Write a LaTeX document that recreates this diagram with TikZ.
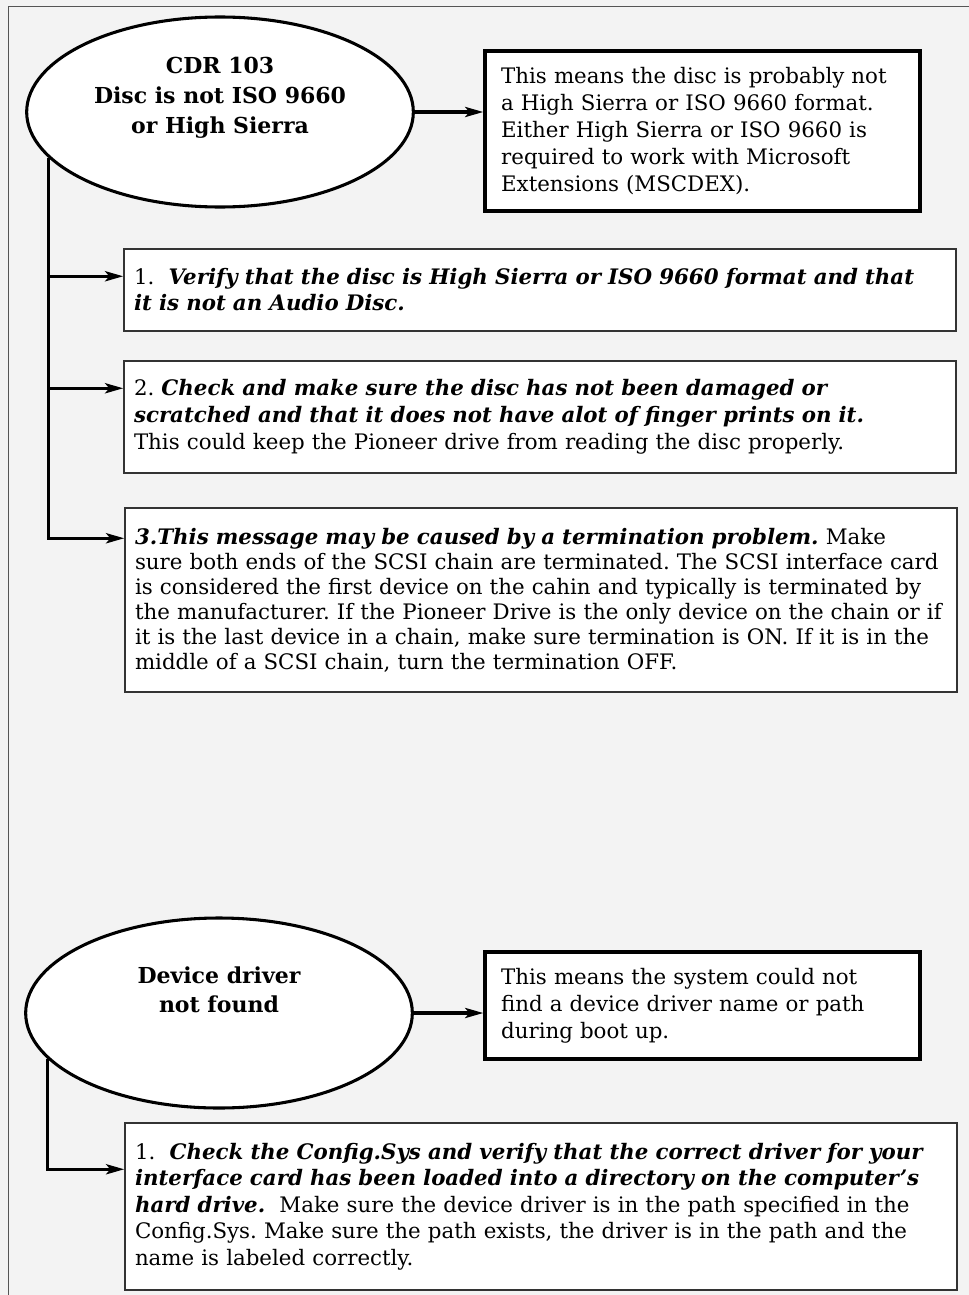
\documentclass[tikz,border=0pt]{standalone}
\usepackage{fontspec}
\setmainfont{DejaVu Serif}
\usetikzlibrary{arrows.meta,positioning,shapes.geometric,calc}
\definecolor{pagegray}{HTML}{F3F3F3}
\definecolor{framegray}{HTML}{555555}
\newcommand{\bfit}[1]{\textbf{\textit{#1}}}
\frenchspacing
\tikzset{
  errnode/.style={draw, ellipse, line width=2.3pt, fill=white, minimum width=290pt, minimum height=142.5pt, inner sep=0pt},
  errtext/.style={align=center, font=\bfseries\fontsize{16.5pt}{22.5pt}\selectfont},
  infobox/.style={draw, line width=2.8pt, fill=white, text width=302pt, inner xsep=12pt, align=left, font=\fontsize{16pt}{20.25pt}\selectfont},
  stepbox/.style={draw=black!80, line width=1.1pt, fill=white, text width=609pt, inner xsep=7.5pt, align=left, font=\fontsize{16pt}{20.25pt}\selectfont},
  flow/.style={-{Stealth[length=13.5pt,width=7.5pt,inset=3pt]}, line width=2.5pt}
}

\begin{document}
\begin{tikzpicture}[x=0.75pt,y=-0.75pt]
\useasboundingbox (0,0) rectangle (969,1295);
\fill[pagegray] (0,0) rectangle (969,1295);
\draw[framegray, line width=0.8pt] (8.5,6.5) rectangle (990,1310);

% CDR 103
\node[errnode] (e1) at (220,112) {};
\node[errtext] (e1text) at (220,98) {CDR 103\\Disc is not ISO 9660\\or High Sierra};
\node[infobox, minimum height=120pt] (info1) at (702.5,131)
  {This means the disc is probably not\\
   a High Sierra or ISO 9660 format.\\
   Either High Sierra or ISO 9660 is\\
   required to work with Microsoft\\
   Extensions (MSCDEX).};

\node[stepbox, minimum height=61.5pt, font=\fontsize{16pt}{19.5pt}\selectfont] (step1) at (540,290)
  {1.\ \ \bfit{Verify that the disc is High Sierra or ISO 9660 format and that}\\
   \bfit{it is not an Audio Disc.}};
\node[stepbox, minimum height=84pt] (step2) at (540,417)
  {2. \bfit{Check and make sure the disc has not been damaged or}\\
   \bfit{scratched and that it does not have alot of finger prints on it.}\\
   This could keep the Pioneer drive from reading the disc properly.};
\node[stepbox, minimum height=138pt, font=\fontsize{16pt}{18.75pt}\selectfont] (step3) at (541,600)
  {\bfit{3.This message may be caused by a termination problem.} Make\\
   sure both ends of the SCSI chain are terminated. The SCSI interface card\\
   is considered the first device on the cahin and typically is terminated by\\
   the manufacturer. If the Pioneer Drive is the only device on the chain or if\\
   it is the last device in a chain, make sure termination is ON. If it is in the\\
   middle of a SCSI chain, turn the termination OFF.};

\coordinate (in1) at ([yshift=-21pt]step1.north west);
\coordinate (in2) at ([yshift=-21pt]step2.north west);
\coordinate (in3) at ([yshift=-23.25pt]step3.north west);
\draw[flow] (e1.east) -- (e1.east -| info1.west);
\draw[flow] (e1.195) |- (in3);
\draw[flow] (in1 -| e1.195) -- (in1);
\draw[flow] (in2 -| e1.195) -- (in2);

% Device driver
\node[errnode] (e2) at (219,1013) {};
\node[errtext, font=\bfseries\fontsize{16.5pt}{21.75pt}\selectfont] (e2text) at (219,990) {Device driver\\not found};
\node[infobox, minimum height=80.25pt] (info2) at (702.5,1005.5)
  {This means the system could not\\
   find a device driver name or path\\
   during boot up.};

\node[stepbox, minimum height=125.25pt, font=\fontsize{16pt}{19.9pt}\selectfont] (fix1) at (541,1206.5)
  {1.\ \ \bfit{Check the Config.Sys and verify that the correct driver for your}\\
   \bfit{interface card has been loaded into a directory on the computer’s}\\
   \bfit{hard drive.}\ \ Make sure the device driver is in the path specified in the\\
   Config.Sys. Make sure the path exists, the driver is in the path and the\\
   name is labeled correctly.};

\coordinate (in4) at ([yshift=-35.25pt]fix1.north west);
\draw[flow] (e2.east) -- (e2.east -| info2.west);
\draw[flow] (e2.195) |- (in4);
\end{tikzpicture}
\end{document}
